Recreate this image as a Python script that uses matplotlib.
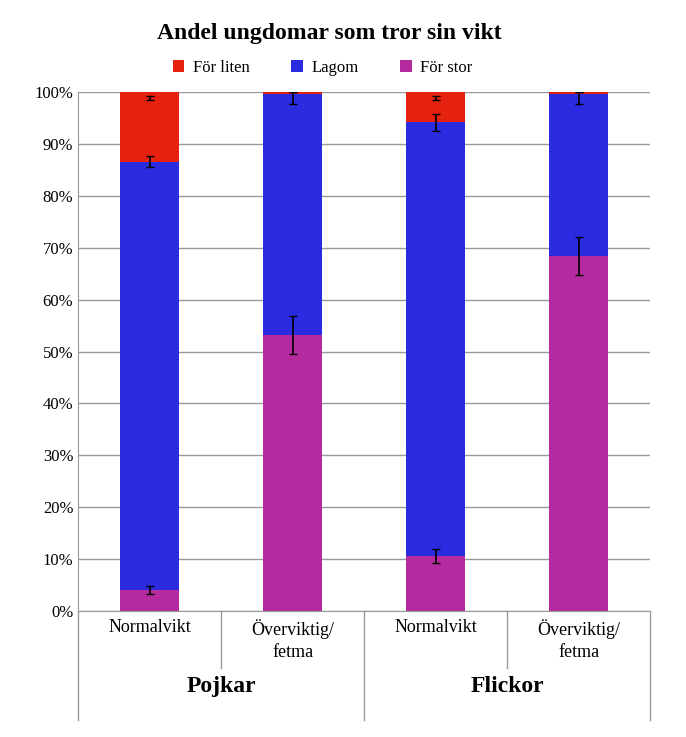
import numpy as np
import matplotlib.pyplot as plt

groups = ["Pojkar", "Flickor"]
subgroups = ["Normalvikt", "Överviktig/\nfetma", "Normalvikt", "Överviktig/\nfetma"]
for_stor = [4.0, 53.2, 10.6, 68.4]
lagom = [82.6, 46.4, 83.6, 31.2]
for_liten = [13.4, 0.4, 5.8, 0.4]
err_stor = [0.8, 3.6, 1.3, 3.6]
err_lagom = [1.0, 1.8, 1.6, 1.8]
err_liten = [0.8, 0.0, 0.8, 0.0]

plt.rcParams['font.family'] = ['Liberation Serif', 'DejaVu Serif']
fig = plt.figure(figsize=(6.86, 7.37), dpi=100)
ax = fig.add_axes([0.114, 0.171, 0.834, 0.704])

x = np.arange(4) + 0.5
w = 0.41
c_stor, c_lagom, c_liten = "#B52A9E", "#2B2BE0", "#E5220F"
stor = np.array(for_stor)
lag = np.array(lagom)
lit = np.array(for_liten)
ax.bar(x, stor, w, color=c_stor, zorder=2, label="För stor")
ax.bar(x, lag, w, bottom=stor, color=c_lagom, zorder=2, label="Lagom")
ax.bar(x, lit, w, bottom=stor + lag, color=c_liten, zorder=2, label="För liten")

ekw = dict(fmt="none", ecolor="black", elinewidth=1.2, capsize=3, zorder=3)
ax.errorbar(x, stor, yerr=err_stor, **ekw)
ax.errorbar(x, stor + lag, yerr=err_lagom, **ekw)
tops = stor + lag + lit
ax.errorbar(x, tops - np.array(err_liten), yerr=[err_liten, [0.0] * 4], **ekw)

ax.set_xlim(0, 4)
ax.set_ylim(0, 100)
ax.set_yticks(range(0, 101, 10))
ax.set_yticklabels([f"{v}%" for v in range(0, 101, 10)], fontsize=12)
ax.yaxis.grid(True, color="#999999", linewidth=1, zorder=0)
ax.set_xticks([])
for s in ["top", "right"]:
    ax.spines[s].set_visible(False)
ax.spines["left"].set_color("#999999")
ax.spines["bottom"].set_color("#999999")
ax.tick_params(axis="y", length=0)

# category table below
tr = ax.get_xaxis_transform()
for xv, depth in [(0, -0.21), (1, -0.11), (2, -0.21), (3, -0.11), (4, -0.21)]:
    ax.plot([xv, xv], [0, depth], transform=tr, color="#999999", lw=1, clip_on=False)
for xi, lab in zip(x, subgroups):
    ax.text(xi, -0.015, lab, transform=tr, ha="center", va="top", fontsize=13, linespacing=1.4)
for gi, g in enumerate(groups):
    ax.text(gi * 2 + 1, -0.145, g, transform=tr, ha="center", va="center", fontsize=17, fontweight="bold")

fig.text(0.48, 0.955, "Andel ungdomar som tror sin vikt", ha="center", va="center", fontsize=17, fontweight="bold")
h, l = ax.get_legend_handles_labels()
fig.legend(h[::-1], l[::-1], loc="center", bbox_to_anchor=(0.47, 0.908), ncol=3, frameon=False,
           fontsize=12, handlelength=0.7, handleheight=0.7, columnspacing=2.5, handletextpad=0.5)

fig.savefig("out.png", dpi=100)
